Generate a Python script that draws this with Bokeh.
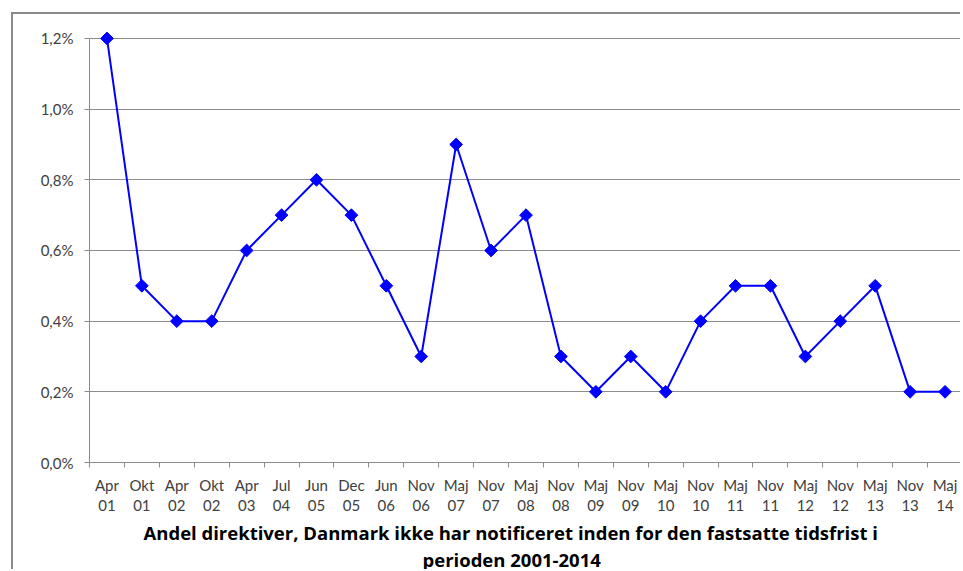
from bokeh.plotting import figure
from bokeh.models import Range1d, FixedTicker, Title
from bokeh.embed import file_html
from bokeh.resources import INLINE
import numpy as np

months = ["Apr", "Okt", "Apr", "Okt", "Apr", "Jul", "Jun", "Dec", "Jun", "Nov",
          "Maj", "Nov", "Maj", "Nov", "Maj", "Nov", "Maj", "Nov", "Maj", "Nov",
          "Maj", "Nov", "Maj", "Nov", "Maj"]
years = ["01", "01", "02", "02", "03", "04", "05", "05", "06", "06",
         "07", "07", "08", "08", "09", "09", "10", "10", "11", "11",
         "12", "12", "13", "13", "14"]
values = [1.2, 0.5, 0.4, 0.4, 0.6, 0.7, 0.8, 0.7, 0.5, 0.3,
          0.9, 0.6, 0.7, 0.3, 0.2, 0.3, 0.2, 0.4, 0.5, 0.5,
          0.3, 0.4, 0.5, 0.2, 0.2]
y_ticks = [0.0, 0.2, 0.4, 0.6, 0.8, 1.0, 1.2]
y_labels = ["0,0%", "0,2%", "0,4%", "0,6%", "0,8%", "1,0%", "1,2%"]
title_lines = ["Andel direktiver, Danmark ikke har notificeret inden for den fastsatte tidsfrist i",
               "perioden 2001-2014"]

FONT = "Lato"
TFONT = "Open Sans"
GRID = "#8c8c8c"

x = list(range(len(values)))

p = figure(width=949, height=557, output_backend="svg", toolbar_location=None,
           x_range=Range1d(-0.5, len(values) - 0.5), y_range=Range1d(0, 1.2225),
           min_border_left=76, min_border_right=0, min_border_top=16, min_border_bottom=107,
           margin=(12, 0, 0, 11))
p.styles = {"border-left": "2px solid #8a8a8a", "border-top": "2px solid #8a8a8a"}
p.outline_line_color = None
p.background_fill_color = "white"
p.border_fill_color = "white"

p.line(x, values, line_color="#0000ff", line_width=2)
p.scatter(x, values, marker="square", angle=np.pi / 4, size=9,
          fill_color="#0000ff", line_color="#0000ff")

# y axis
p.yaxis.ticker = FixedTicker(ticks=y_ticks)
p.yaxis.bounds = (0, 1.2)
p.yaxis.major_label_overrides = {t: l for t, l in zip(y_ticks, y_labels)}
p.yaxis.axis_line_color = GRID
p.yaxis.major_tick_line_color = GRID
p.yaxis.major_tick_out = 5
p.yaxis.major_tick_in = 0
p.yaxis.minor_tick_line_color = None
p.yaxis.major_label_text_font = FONT
p.yaxis.major_label_text_font_size = "15px"
p.yaxis.major_label_text_color = "#404040"
p.yaxis.major_label_standoff = 11

# x axis
bounds = [i - 0.5 for i in range(len(values) + 1)]
p.xaxis.ticker = FixedTicker(ticks=x, minor_ticks=bounds)
p.xaxis.major_label_overrides = {i: f"{m}\n{y}" for i, (m, y) in enumerate(zip(months, years))}
p.xaxis.axis_line_color = GRID
p.xaxis.major_tick_line_color = None
p.xaxis.major_tick_out = 0
p.xaxis.major_tick_in = 0
p.xaxis.minor_tick_line_color = GRID
p.xaxis.minor_tick_out = 5
p.xaxis.minor_tick_in = 0
p.xaxis.major_label_text_font = FONT
p.xaxis.major_label_text_font_size = "15px"
p.xaxis.major_label_text_color = "#404040"
p.xaxis.major_label_text_line_height = 1.15
p.xaxis.major_label_standoff = 8

p.xgrid.grid_line_color = None
p.ygrid.grid_line_color = GRID
p.ygrid.grid_line_width = 1

for line, off in zip(title_lines, [54, 333]):
    t = Title(text=line, align="left", offset=off, text_font=TFONT, text_font_size="18.5px",
              text_font_style="bold", text_color="black", standoff=0)
    p.add_layout(t, "below")

open("out.html", "w").write(file_html(p, INLINE))
